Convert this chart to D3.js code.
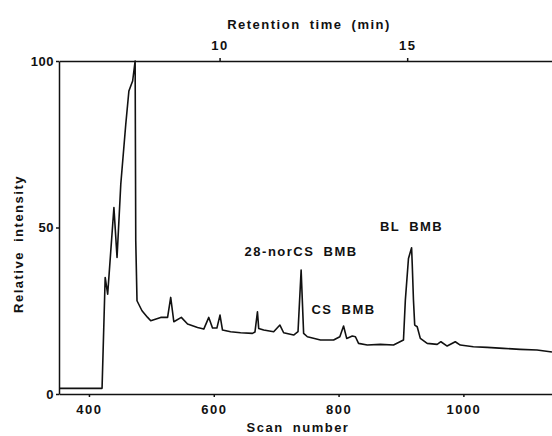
<!DOCTYPE html>
<html>
<head>
<meta charset="utf-8">
<script src="https://cdnjs.cloudflare.com/ajax/libs/d3/7.8.5/d3.min.js"></script>
<style>
    body { margin: 0; background: #fff; }
    svg { display: block; }
    text {
        font-family: "Liberation Sans", Arial, Helvetica, sans-serif;
        font-weight: bold;
        font-size: 13px;
        fill: #111;
        letter-spacing: 1.5px;
        word-spacing: 4px;
    }
    .axis path, .axis line { stroke: #111; stroke-width: 1.5px; }
    .trace { fill: none; stroke: #111; stroke-width: 1.6px; stroke-linejoin: round; }
</style>
</head>
<body>
<div id="chart"></div>
<script>
// scan numbers and relative intensity (%)
var scans = [352, 421, 426, 430, 440, 445, 451, 459, 464, 468, 470, 474, 475, 477, 485, 494, 499, 515, 526, 531, 536,
    548, 558, 574, 584, 592, 598, 605, 610, 614, 627, 643, 662, 666, 670, 672, 680, 696, 706, 712, 728, 735, 740, 744,
    750, 771, 792, 802, 808, 813, 822, 827, 832, 846, 867, 888, 904, 907, 912, 917, 918, 920, 922, 926, 931, 942, 958,
    964, 974, 987, 995, 1016, 1038, 1064, 1091, 1118, 1139, 1142];
var intensity = [1.7, 1.7, 35, 30, 56, 41, 63, 81, 91, 93, 94, 100, 46, 28, 25, 23, 22, 23, 23, 29, 21.7,
    23, 21, 20, 19.5, 23, 19.8, 19.8, 23.7, 19.2, 18.7, 18.4, 18.2, 18.6, 24.7, 19.7, 19.2, 18.7, 20.7, 18.4, 17.7, 18.7, 37.2, 18.2,
    17.2, 16.2, 16.2, 17.2, 20.4, 16.7, 17.4, 17.2, 15.2, 14.7, 14.9, 14.7, 16.2, 28.2, 40.7, 43.9, 39.2, 28.2, 20.7, 20.2, 16.7, 15.2, 14.9,
    15.7, 14.4, 15.7, 14.7, 14.2, 14.0, 13.7, 13.4, 13.2, 12.7, 12.6];

var scanTicks = [400, 600, 800, 1000];
var timeTicks = [10, 15];
var intensityTicks = [0, 50, 100];

// peak labels: text, scan, intensity where the label sits
var peakNames = ["28-norCS  BMB", "CS  BMB", "BL  BMB"];
var peakScans = [740, 808, 917];
var peakLevels = [41.5, 24, 49];

var width = 552, height = 436;
var margin = {top: 61, right: 0, bottom: 42, left: 59};

var svg = d3.select("#chart").append("svg")
    .attr("width", width)
    .attr("height", height);

var x = d3.scaleLinear()
    .domain([352, 1142])
    .range([margin.left, width - margin.right]);

// retention time runs alongside the scan number on the top axis
var t = d3.scaleLinear()
    .domain([5.72, 18.86])
    .range([margin.left, width - margin.right]);

var y = d3.scaleLinear()
    .domain([0, 100])
    .range([height - margin.bottom, margin.top]);

var data = scans.map(function (s, i) {
    return {scan: s, value: intensity[i]};
});

function cleanAxis(g) {
    g.attr("font-family", null).attr("font-size", null);
}

svg.append("g")
    .attr("class", "axis")
    .attr("transform", "translate(0," + y(0) + ")")
    .call(d3.axisBottom(x).tickValues(scanTicks).tickFormat(d3.format("d"))
        .tickSize(3).tickSizeOuter(0).tickPadding(8))
    .call(cleanAxis);

svg.append("g")
    .attr("class", "axis")
    .attr("transform", "translate(0," + y(100) + ")")
    .call(d3.axisTop(t).tickValues(timeTicks).tickFormat(d3.format("d"))
        .tickSize(3).tickSizeOuter(0).tickPadding(8))
    .call(cleanAxis);

svg.append("g")
    .attr("class", "axis")
    .attr("transform", "translate(" + margin.left + ",0)")
    .call(d3.axisLeft(y).tickValues(intensityTicks).tickSize(3).tickSizeOuter(0).tickPadding(2))
    .call(cleanAxis)
    .call(function (g) { g.selectAll("text").style("letter-spacing", "0.5px"); });

svg.append("path")
    .datum(data)
    .attr("class", "trace")
    .attr("d", d3.line()
        .x(function (d) { return x(d.scan); })
        .y(function (d) { return y(d.value); }));

//peak annotations
svg.selectAll(".peak")
    .data(peakNames)
    .enter()
    .append("text")
    .attr("class", "peak")
    .attr("text-anchor", "middle")
    .attr("x", function (d, i) { return x(peakScans[i]); })
    .attr("y", function (d, i) { return y(peakLevels[i]); })
    .text(function (d) { return d; });

svg.append("text")
    .attr("text-anchor", "middle")
    .attr("x", 309)
    .attr("y", 29)
    .text("Retention time  (min)");

svg.append("text")
    .attr("text-anchor", "middle")
    .attr("x", 298)
    .attr("y", 432)
    .text("Scan  number");

svg.append("text")
    .attr("text-anchor", "middle")
    .attr("transform", "translate(23,244) rotate(-90)")
    .text("Relative  intensity");
</script>
</body>
</html>
